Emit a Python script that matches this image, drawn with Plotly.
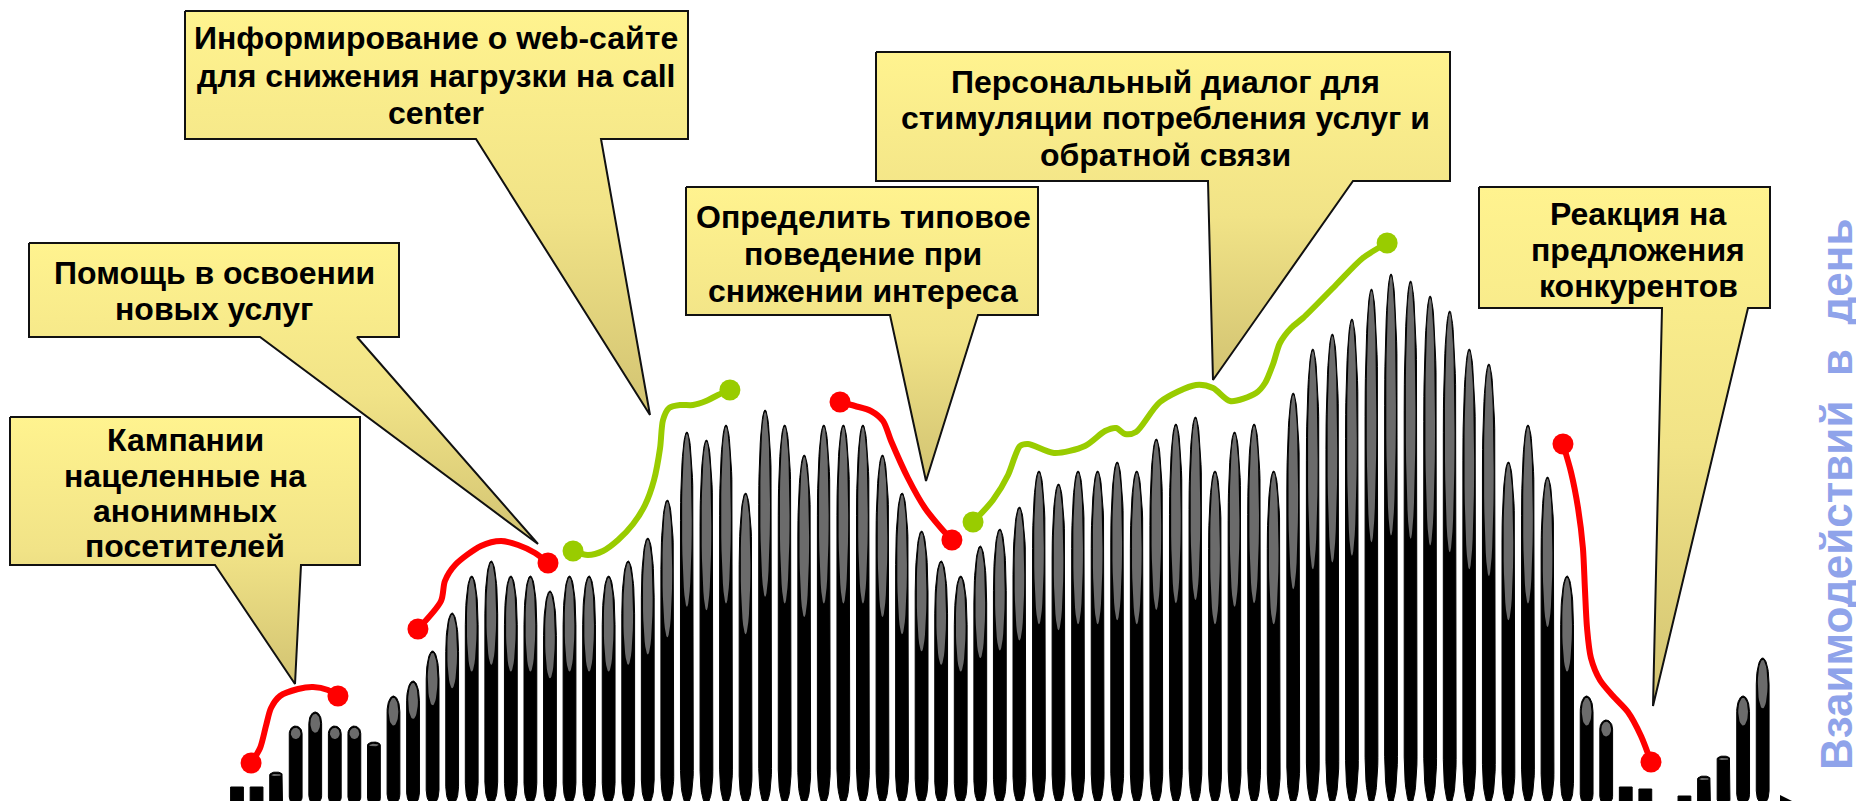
import numpy as np
import plotly.graph_objects as go

# ---------------- data ----------------
bar_index = list(range(1, 80))
interactions = [17, 17, 32, 78, 92, 78, 78, 62, 108, 123, 153, 191, 228, 243, 228, 228, 213, 228, 228, 228,
                243, 266, 304, 372, 364, 379, 311, 394, 379, 349, 379, 379, 379, 349, 311, 273, 243, 228, 258, 275,
                297, 333, 320, 333, 333, 342, 333, 365, 380, 387, 333, 372, 380, 333, 411, 455, 470, 485, 515, 530,
                523, 508, 493, 455, 440, 342, 379, 327, 228, 108, 84, 17, 15, None, 8, 28, 48, 108, 146]

red1_x = [1.72, 2.18, 2.48, 2.74, 3.20, 4.12, 4.89, 5.65, 6.16]
red1_y = [41, 56, 78, 96, 108, 115, 117, 114, 108]
red2_x = [10.25, 11.43, 11.63, 12.15, 13.47, 14.50, 15.37, 16.24, 16.90]
red2_y = [175, 203, 223, 239, 258, 263, 259, 251, 241]
green1_x = [18.18, 18.94, 19.71, 20.48, 21.25, 21.86, 22.32, 22.63, 22.78, 23.09, 23.65, 24.31, 24.98, 25.59, 26.20]
green1_y = [253, 249, 253, 264, 280, 299, 324, 356, 384, 396, 399, 399, 403, 409, 414]
red3_x = [31.83, 32.60, 33.41, 34.03, 34.44, 35.30, 36.17, 36.99, 37.55]
red3_y = [402, 398, 393, 383, 363, 326, 296, 276, 264]
green2_x = [38.63, 39.65, 40.42, 40.78, 41.03, 41.44, 42.77, 44.35, 45.38, 45.94, 46.40, 46.96, 48.19, 50.03,
            50.90, 51.77, 53.10, 53.56, 53.97, 54.32, 54.89, 55.50, 57.18, 58.56, 59.80]
green2_y = [282, 304, 329, 348, 358, 360, 351, 358, 373, 376, 370, 372, 402, 419, 416, 403, 411, 421, 440, 461,
            476, 486, 519, 546, 561]
red4_x = [68.79, 69.20, 69.56, 69.81, 69.91, 70.02, 70.22, 70.68, 71.35, 72.11, 72.78, 73.29]
red4_y = [360, 332, 296, 256, 216, 176, 146, 124, 108, 92, 68, 42]

callout_texts = [
    ["Кампании", "нацеленные на", "анонимных", "посетителей"],
    ["Помощь в освоении", "новых услуг"],
    ["Информирование о web-сайте", "для снижения нагрузки на call", "center"],
    ["Определить типовое", "поведение при", "снижении интереса"],
    ["Персональный диалог для", "стимуляции потребления услуг и", "обратной связи"],
    ["Реакция на", "предложения", "конкурентов"],
]
axis_title = "Взаимодействий  в  день"

# ---------------- geometry / style ----------------
W, H = 1864, 801
PX_X = 19.56          # px per bar slot
X0_PX = 229           # px of first bar centre
BASE_PX = 796         # px of baseline
x_min = 1 - X0_PX / PX_X
x_max = 1 + (W - X0_PX) / PX_X
y_min, y_max = -(H - BASE_PX), BASE_PX

BAR_W = 12.8 / PX_X


def cap_height(v):
    if v < 25:
        return 0.0
    return max(6.0, 0.55 * v - 28)


def bottom_taper(v):
    return 0.0 if v < 40 else 0.09 * v


def silhouette(xc, v):
    a = BAR_W / 2
    c = cap_height(v)
    b = bottom_taper(v)
    xs, ys = [], []
    if b > 0:
        t = np.linspace(-np.pi / 2, 0, 10)
        xs += list(xc + a * np.cos(t)); ys += list(b + b * np.sin(t))
    else:
        xs += [xc + a]; ys += [0]
    if c > 0:
        yc = v - c / 2
        t = np.linspace(0, np.pi, 32)
        xs += list(xc + a * np.cos(t)); ys += list(yc + (c / 2) * np.sin(t))
    else:
        xs += [xc + a, xc - a]; ys += [v, v]
    if b > 0:
        t = np.linspace(np.pi, 1.5 * np.pi, 10)
        xs += list(xc + a * np.cos(t)); ys += list(b + b * np.sin(t))
    else:
        xs += [xc - a]; ys += [0]
    xs.append(xs[0]); ys.append(ys[0])
    return xs, ys


def cap_face(xc, v):
    c = cap_height(v)
    a = BAR_W / 2 * 0.76
    yc = v - c / 2
    bb = max(c / 2 - 1.8, 1.0)
    t = np.linspace(0, 2 * np.pi, 40)
    return list(xc + a * np.cos(t)), list(yc + bb * np.sin(t))


bx, by, gx, gy = [], [], [], []
for xi, v in zip(bar_index, interactions):
    if v is None:
        continue
    sx, sy = silhouette(xi, v)
    bx += sx + [None]; by += sy + [None]
    if cap_height(v) > 0:
        cx, cy = cap_face(xi, v)
        gx += cx + [None]; gy += cy + [None]

fig = go.Figure()
fig.add_trace(go.Scatter(x=bx, y=by, mode="lines", fill="toself", fillcolor="#000000",
                         line=dict(color="#000000", width=1), hoverinfo="skip"))
fig.add_trace(go.Scatter(x=gx, y=gy, mode="lines", fill="toself", fillcolor="#6b6b6b",
                         line=dict(color="#6b6b6b", width=0), hoverinfo="skip"))

RED, GREEN = "#FF0000", "#99CC00"
for lx, ly, col in [(red1_x, red1_y, RED), (red2_x, red2_y, RED), (green1_x, green1_y, GREEN),
                    (red3_x, red3_y, RED), (green2_x, green2_y, GREEN), (red4_x, red4_y, RED)]:
    fig.add_trace(go.Scatter(x=lx, y=ly, mode="lines",
                             line=dict(color=col, width=6, shape="spline", smoothing=0.8),
                             hoverinfo="skip"))
    fig.add_trace(go.Scatter(x=[lx[0], lx[-1]], y=[ly[0], ly[-1]], mode="markers",
                             marker=dict(color=col, size=21, line=dict(width=0)), hoverinfo="skip"))

# ---------------- callouts (pixel overlay axes) ----------------
callout_shapes = [
    [(2, 409), (352, 409), (352, 557), (293, 557), (287, 676), (207, 557), (2, 557)],
    [(21, 235), (391, 235), (391, 329), (349, 329), (530, 536), (252, 329), (21, 329)],
    [(177, 3), (680, 3), (680, 131), (593, 131), (642, 407), (468, 131), (177, 131)],
    [(678, 179), (1030, 179), (1030, 307), (970, 307), (918, 473), (882, 307), (678, 307)],
    [(868, 44), (1442, 44), (1442, 173), (1345, 173), (1205, 372), (1200, 173), (868, 173)],
    [(1471, 179), (1762, 179), (1762, 300), (1740, 300), (1645, 698), (1654, 300), (1471, 300)],
]
text_pos = [
    (177, [432, 468, 503, 538]),
    (206, [265, 301]),
    (428, [30, 68, 105]),
    (855, [209, 246, 283]),
    (1157, [74, 110, 147]),
    (1630, [206, 242, 278]),
]
for poly in callout_shapes:
    px = [p[0] for p in poly] + [poly[0][0]]
    py = [p[1] for p in poly] + [poly[0][1]]
    fig.add_trace(go.Scatter(x=px, y=py, xaxis="x2", yaxis="y2", mode="lines", fill="toself",
                             fillgradient=dict(type="vertical",
                                               colorscale=[[0, "#D2C372"], [0.5, "#F1E387"], [1, "#FFF38F"]]),
                             line=dict(color="#111111", width=2), hoverinfo="skip"))

annotations = []
FONT = "Liberation Sans, Arial, sans-serif"
for lines, (cx, ys) in zip(callout_texts, text_pos):
    for t, yy in zip(lines, ys):
        annotations.append(dict(x=cx, y=yy, xref="x2", yref="y2", text="<b>" + t + "</b>",
                                showarrow=False, xanchor="center", yanchor="middle",
                                font=dict(family=FONT, size=32, color="#000000")))

annotations.append(dict(x=1828, y=487, xref="x2", yref="y2", text="<b>" + axis_title + "</b>",
                        showarrow=False, textangle=-90, xanchor="center", yanchor="middle",
                        font=dict(family=FONT, size=44, color="#8FA3EA")))

annotations.append(dict(x=1793, y=797.5, ax=166, ay=797.5, xref="x2", yref="y2", axref="x2", ayref="y2",
                        text="", showarrow=True, arrowhead=2, arrowsize=1.2, arrowwidth=3.5,
                        arrowcolor="#000000", standoff=0, startstandoff=0))

fig.update_layout(
    width=W, height=H, margin=dict(l=0, r=0, t=0, b=0),
    paper_bgcolor="white", plot_bgcolor="white", showlegend=False,
    xaxis=dict(range=[x_min, x_max], visible=False, fixedrange=True),
    yaxis=dict(range=[y_min, y_max], visible=False, fixedrange=True),
    xaxis2=dict(range=[0, W], visible=False, overlaying="x", anchor="y2", fixedrange=True),
    yaxis2=dict(range=[H, 0], visible=False, overlaying="y", anchor="x2", fixedrange=True),
    annotations=annotations,
)

fig.write_html("out.html")
